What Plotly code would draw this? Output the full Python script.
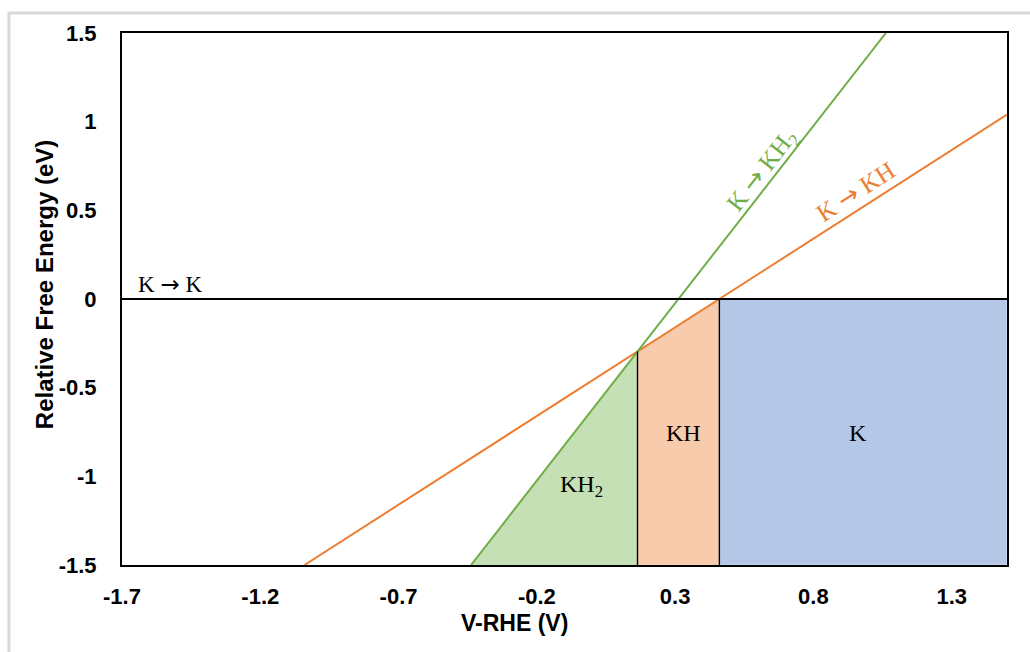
import plotly.graph_objects as go

# Axis ranges and ticks
x_range = [-1.7, 1.5]
y_range = [-1.5, 1.5]
x_ticks = [-1.7, -1.2, -0.7, -0.2, 0.3, 0.8, 1.3]
y_ticks = [-1.5, -1.0, -0.5, 0.0, 0.5, 1.0, 1.5]
x_tick_text = ["-1.7", "-1.2", "-0.7", "-0.2", "0.3", "0.8", "1.3"]
y_tick_text = ["-1.5", "-1", "-0.5", "0", "0.5", "1", "1.5"]

# Reaction free-energy lines (end points, V vs eV)
k_to_k_x = [-1.7, 1.5]
k_to_k_y = [0.0, 0.0]
k_to_kh_x = [-1.04, 1.5]
k_to_kh_y = [-1.5, 1.04]
k_to_kh2_x = [-0.438, 1.062]
k_to_kh2_y = [-1.5, 1.5]

# Stability regions (polygon vertices)
kh2_region_x = [-0.438, 0.164, 0.164, -0.438]
kh2_region_y = [-1.5, -0.296, -1.5, -1.5]
kh_region_x = [0.164, 0.164, 0.46, 0.46, 0.164]
kh_region_y = [-1.5, -0.296, 0.0, -1.5, -1.5]
k_region_x = [0.46, 0.46, 1.5, 1.5, 0.46]
k_region_y = [-1.5, 0.0, 0.0, -1.5, -1.5]

# Phase boundaries
boundary_x = [0.164, 0.46]
boundary_top = [-0.296, 0.0]

GREEN = "#70AD47"
ORANGE = "#ED7D31"
SERIF = "Liberation Serif, Times New Roman, serif"
SANS = "Arial, Liberation Sans, sans-serif"
ARROW = '<span style="font-family:DejaVu Sans">→</span>'

fig = go.Figure()

fig.add_trace(go.Scatter(x=kh2_region_x, y=kh2_region_y, fill="toself",
                         fillcolor="#C5E0B4", mode="none", hoverinfo="skip"))
fig.add_trace(go.Scatter(x=kh_region_x, y=kh_region_y, fill="toself",
                         fillcolor="#F8CBAD", mode="none", hoverinfo="skip"))
fig.add_trace(go.Scatter(x=k_region_x, y=k_region_y, fill="toself",
                         fillcolor="#B4C7E7", mode="lines",
                         line=dict(color="#DCE4F2", width=1), hoverinfo="skip"))

fig.add_trace(go.Scatter(x=k_to_kh_x, y=k_to_kh_y, mode="lines",
                         line=dict(color=ORANGE, width=2)))
fig.add_trace(go.Scatter(x=k_to_kh2_x, y=k_to_kh2_y, mode="lines",
                         line=dict(color=GREEN, width=2)))
fig.add_trace(go.Scatter(x=k_to_k_x, y=k_to_k_y, mode="lines",
                         line=dict(color="black", width=2.2)))

for bx, bt in zip(boundary_x, boundary_top):
    fig.add_trace(go.Scatter(x=[bx, bx], y=[y_range[0], bt], mode="lines",
                             line=dict(color="black", width=1.4)))

annotations = [
    dict(x=-1.526, y=0.0, text=f"K {ARROW} K", yanchor="bottom", yshift=0,
         font=dict(family=SERIF, size=23, color="black")),
    dict(x=0.616, y=0.72, text=f"K {ARROW} KH<sub>2</sub>", textangle=-52,
         font=dict(family=SERIF, size=25, color=GREEN)),
    dict(x=0.954, y=0.605, text=f"K {ARROW} KH", textangle=-33,
         font=dict(family=SERIF, size=25, color=ORANGE)),
    dict(x=-0.039, y=-1.055, text="KH<sub>2</sub>",
         font=dict(family=SERIF, size=24, color="black")),
    dict(x=0.33, y=-0.756, text="KH",
         font=dict(family=SERIF, size=24, color="black")),
    dict(x=0.96, y=-0.756, text="K",
         font=dict(family=SERIF, size=24, color="black")),
]
for a in annotations:
    a.update(xref="x", yref="y", showarrow=False)

# Axis titles
annotations += [
    dict(xref="paper", yref="paper", x=0.444, y=-0.109, showarrow=False,
         xanchor="center", yanchor="middle", text="V-RHE (V)",
         font=dict(family=SANS, size=23, color="black", weight="bold")),
    dict(xref="paper", yref="paper", x=-0.0881, y=0.526, showarrow=False,
         xanchor="center", yanchor="middle", textangle=-90,
         text="Relative Free Energy (eV)",
         font=dict(family=SANS, size=24, color="black", weight="bold")),
]

fig.update_layout(
    width=1030, height=652,
    margin=dict(l=122, r=23, t=33, b=87),
    paper_bgcolor="white", plot_bgcolor="white",
    showlegend=False,
    annotations=annotations,
    shapes=[dict(type="rect", xref="paper", yref="paper",
                 x0=-0.1277, y0=-0.2, x1=1.2, y1=1.0376,
                 line=dict(color="#D9D9D9", width=3), layer="below")],
    xaxis=dict(range=x_range, tickvals=x_ticks, ticktext=x_tick_text,
               showgrid=False, zeroline=False, showline=True, mirror=True,
               linecolor="black", linewidth=2, ticks="", ticklabelstandoff=11,
               tickfont=dict(family=SANS, size=22, color="black", weight="bold")),
    yaxis=dict(range=y_range, tickvals=y_ticks, ticktext=y_tick_text,
               showgrid=False, zeroline=False, showline=True, mirror=True,
               linecolor="black", linewidth=2, ticks="", ticklabelstandoff=19,
               tickfont=dict(family=SANS, size=22, color="black", weight="bold")),
)

fig.write_html("out.html")
